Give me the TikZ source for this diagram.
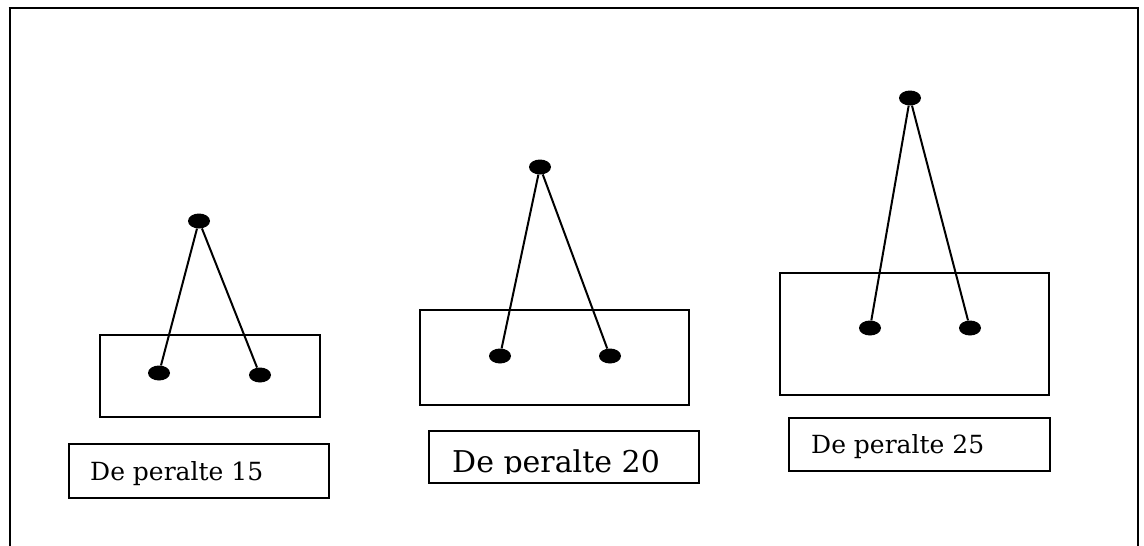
\documentclass[tikz,border=0pt]{standalone}
\usepackage{fontspec}
\setmainfont{DejaVu Serif}
\usetikzlibrary{shapes.geometric}
\begin{document}
\begin{tikzpicture}[x=1pt,y=-1pt,
  plate/.style={draw, rectangle, line width=1.9pt, inner sep=0pt},
  dot/.style={ellipse, fill=black, minimum width=22pt, minimum height=15pt, inner sep=0pt},
  wire/.style={line width=2pt},
  caption/.style={anchor=base west, inner sep=0pt},
  capsize/.style={font=\fontsize{#1}{#1}\selectfont}]
\useasboundingbox (0,0) rectangle (1144,546);

% open frame: top edge and two sides running off the bottom
\draw[line width=2pt] (9.5,546) -- (9.5,8);
\draw[line width=2pt] (1137.5,546) -- (1137.5,8);
\draw[line width=2.8pt] (8.5,8) -- (1138.5,8);

% plates
\node[plate, minimum width=220pt, minimum height=82pt]  (p1) at (210,376) {};
\node[plate, minimum width=269pt, minimum height=95pt]  (p2) at (554.5,357.5) {};
\node[plate, minimum width=269pt, minimum height=122pt] (p3) at (914.5,334) {};

% caption boxes
\node[plate, minimum width=260pt, minimum height=54pt] (l1) at (199,471) {};
\node[plate, minimum width=270pt, minimum height=52pt] (l2) at (564,457) {};
\node[plate, minimum width=261pt, minimum height=53pt] (l3) at (919.5,444.5) {};

% pendulums: top point and two feet
\node[dot] (t1) at (199,221) {};
\node[dot] (a1) at (159,373) {};
\node[dot] (b1) at (260,375) {};
\node[dot] (t2) at (540,167) {};
\node[dot] (a2) at (500,356) {};
\node[dot] (b2) at (610,356) {};
\node[dot] (t3) at (910,98) {};
\node[dot] (a3) at (870,328) {};
\node[dot] (b3) at (970,328) {};

\draw[wire] (t1) -- (a1);
\draw[wire] (t1) -- (b1);
\draw[wire] (t2) -- (a2);
\draw[wire] (t2) -- (b2);
\draw[wire] (t3) -- (a3);
\draw[wire] (t3) -- (b3);

% captions
\node[caption, capsize=25] (c1) at (90,480) {De peralte 15};
\begin{scope}
  \clip (429,431) rectangle (699,473.5);
  \node[caption, capsize=30] (c2) at (452,472) {De peralte 20};
\end{scope}
\node[caption, capsize=25] (c3) at (811,453) {De peralte 25};
\end{tikzpicture}
\end{document}
